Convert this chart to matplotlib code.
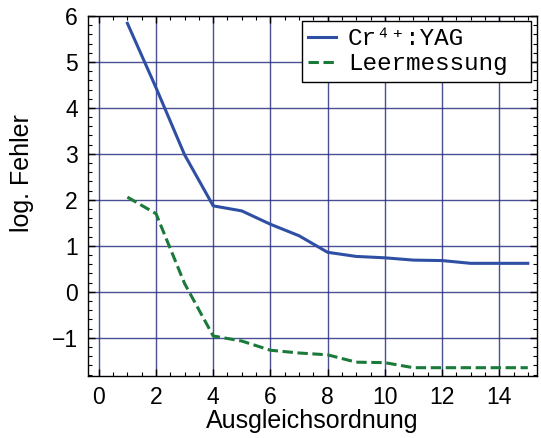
import matplotlib
matplotlib.use("Agg")
import matplotlib.pyplot as plt
from matplotlib.ticker import MultipleLocator, FuncFormatter

# Fit order vs. log error
order = [1, 2, 3, 4, 5, 6, 7, 8, 9, 10, 11, 12, 13, 14, 15]
err_cryag = [5.84, 4.44, 2.98, 1.87, 1.76, 1.47, 1.22, 0.86, 0.77, 0.74, 0.69, 0.68, 0.62, 0.62, 0.62]
err_blank = [2.06, 1.70, 0.18, -0.96, -1.07, -1.27, -1.33, -1.37, -1.53, -1.54, -1.65, -1.65, -1.65, -1.65, -1.65]

label_cryag = "Cr\u2074\u207a:YAG"
label_blank = "Leermessung"
xlabel = "Ausgleichsordnung"
ylabel = "log. Fehler"

plt.rcParams["font.family"] = ["Liberation Sans", "DejaVu Sans"]

fig = plt.figure(figsize=(5.41, 4.38), dpi=100)
ax = fig.add_axes([0.162, 0.1416, 0.830, 0.822])

grid_color = "#2b3080"
ax.set_axisbelow(True)
ax.grid(True, which="major", color=grid_color, linewidth=1.0, alpha=0.85)

ax.plot(order, err_cryag, color="#2e4fa3", linewidth=2.2, label=label_cryag)
ax.plot(order, err_blank, color="#1a7a3a", linewidth=2.2, linestyle=(0, (3.4, 1.5)), label=label_blank)

ax.set_xlim(-0.39, 15.31)
ax.set_ylim(-1.83, 6.0)
ax.xaxis.set_major_locator(MultipleLocator(2))
ax.xaxis.set_minor_locator(MultipleLocator(0.5))
ax.yaxis.set_major_locator(MultipleLocator(1))
ax.yaxis.set_minor_locator(MultipleLocator(0.2))
ax.tick_params(which="both", direction="in", top=True, right=True, colors="black")
ax.tick_params(which="major", length=5, width=1, labelsize=16.5, pad=7)
ax.tick_params(which="minor", length=3, width=0.8)
ax.yaxis.set_major_formatter(FuncFormatter(
    lambda v, p: ("\u2212%d" % abs(round(v))) if v < 0 else "%d" % round(v)))
for s in ax.spines.values():
    s.set_color("black")
    s.set_linewidth(1.0)

ax.set_xlabel(xlabel, fontsize=18)
ax.set_ylabel(ylabel, fontsize=18)
ax.xaxis.set_label_coords(0.5, -0.092)
ax.yaxis.set_label_coords(-0.12, 0.564)

leg = ax.legend(loc="upper left", bbox_to_anchor=(0.477, 0.0, 0.510, 0.986), mode="expand",
                prop={"family": ["Liberation Mono", "DejaVu Sans Mono"], "size": 17.5},
                frameon=True, fancybox=False, edgecolor="black", framealpha=1,
                handlelength=1.15, handletextpad=0.5, borderpad=0.25,
                labelspacing=0.1, borderaxespad=0.0)
leg.get_frame().set_linewidth(1.0)

fig.savefig("out.png", dpi=100)
